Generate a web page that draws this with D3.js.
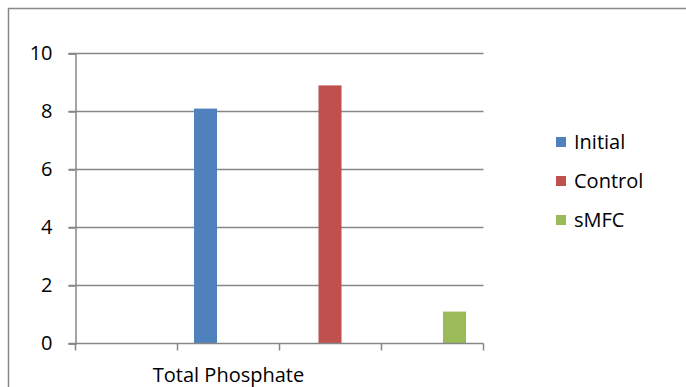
<!DOCTYPE html>
<html>
<head>
<meta charset="utf-8">
<script src="https://cdn.jsdelivr.net/npm/d3@7"></script>
<style>
  html, body { margin: 0; padding: 0; background: #fff; }
  svg { display: block; }
  text { font-family: "Open Sans", sans-serif; fill: #000; }
</style>
</head>
<body>
<svg id="chart" width="686" height="387"></svg>
<script>
const categories = ["", "Total Phosphate", "", ""];
const seriesNames = ["Initial", "Control", "sMFC"];
const seriesValues = [8.1, 8.9, 1.1];
const seriesColors = ["#4F81BD", "#C0504D", "#9BBB59"];
const yTicks = [0, 2, 4, 6, 8, 10];

const svg = d3.select("#chart");
const W = 686, H = 387;
const FS = "20px";

// outer frame (top and left visible; right/bottom beyond window)
svg.append("rect")
  .attr("x", 8.5).attr("y", 8.5)
  .attr("width", W + 10).attr("height", H + 10)
  .attr("fill", "none").attr("stroke", "#888").attr("stroke-width", 1.5);

const plot = { left: 75.5, right: 483.5, top: 53.5, bottom: 343.5 };

const y = d3.scaleLinear().domain([0, 10]).range([plot.bottom, plot.top]);
const xCat = d3.scaleBand().domain(d3.range(categories.length)).range([plot.left, plot.right]).padding(0);
const xSeries = d3.scaleBand().domain(seriesNames).range([194, 466]).paddingInner(0.815).paddingOuter(0);

const gridColor = "#868686";

// gridlines
svg.append("g").selectAll("line").data(yTicks.filter(d => d > 0)).join("line")
  .attr("x1", plot.left - 7).attr("x2", plot.right)
  .attr("y1", d => y(d)).attr("y2", d => y(d))
  .attr("stroke", gridColor).attr("stroke-width", 1.5);

// y axis
const yAxis = d3.axisLeft(y).tickValues(yTicks).tickSize(7).tickPadding(16).tickFormat(d3.format("d"));
const gy = svg.append("g").attr("transform", `translate(${plot.left},0)`).call(yAxis);
gy.select(".domain").attr("stroke", gridColor).attr("stroke-width", 1.5);
gy.selectAll(".tick line").attr("stroke", gridColor).attr("stroke-width", 1.5);
gy.selectAll(".tick text").style("font-size", FS).style("font-family", "'Open Sans', sans-serif").attr("fill", "#000");

// bars
svg.append("g").selectAll("rect").data(seriesNames).join("rect")
  .attr("x", d => xSeries(d))
  .attr("width", xSeries.bandwidth())
  .attr("y", (d, i) => y(seriesValues[i]))
  .attr("height", (d, i) => y(0) - y(seriesValues[i]))
  .attr("fill", (d, i) => seriesColors[i]);

// x axis
const boundaries = d3.range(categories.length + 1).map(i => plot.left + i * xCat.step());
svg.append("line")
  .attr("x1", plot.left - 7).attr("x2", plot.right)
  .attr("y1", plot.bottom).attr("y2", plot.bottom)
  .attr("stroke", gridColor).attr("stroke-width", 1.5);
svg.append("g").selectAll("line").data(boundaries).join("line")
  .attr("x1", d => d).attr("x2", d => d)
  .attr("y1", plot.bottom).attr("y2", plot.bottom + 7)
  .attr("stroke", gridColor).attr("stroke-width", 1.5);
svg.append("g").selectAll("text").data(categories.map((c, i) => ({ c, i })).filter(d => d.c)).join("text")
  .attr("x", d => xCat(d.i) + xCat.bandwidth() / 2)
  .attr("y", 382)
  .attr("text-anchor", "middle")
  .style("font-size", FS)
  .text(d => d.c);

// legend
const legend = svg.append("g").selectAll("g").data(seriesNames).join("g")
  .attr("transform", (d, i) => `translate(556, ${142 + i * 39})`);
legend.append("rect")
  .attr("x", 0).attr("y", -5).attr("width", 10).attr("height", 10)
  .attr("fill", (d, i) => seriesColors[i]);
legend.append("text")
  .attr("x", 18).attr("y", 0).attr("dy", "0.35em")
  .style("font-size", FS)
  .text(d => d);
</script>
</body>
</html>
